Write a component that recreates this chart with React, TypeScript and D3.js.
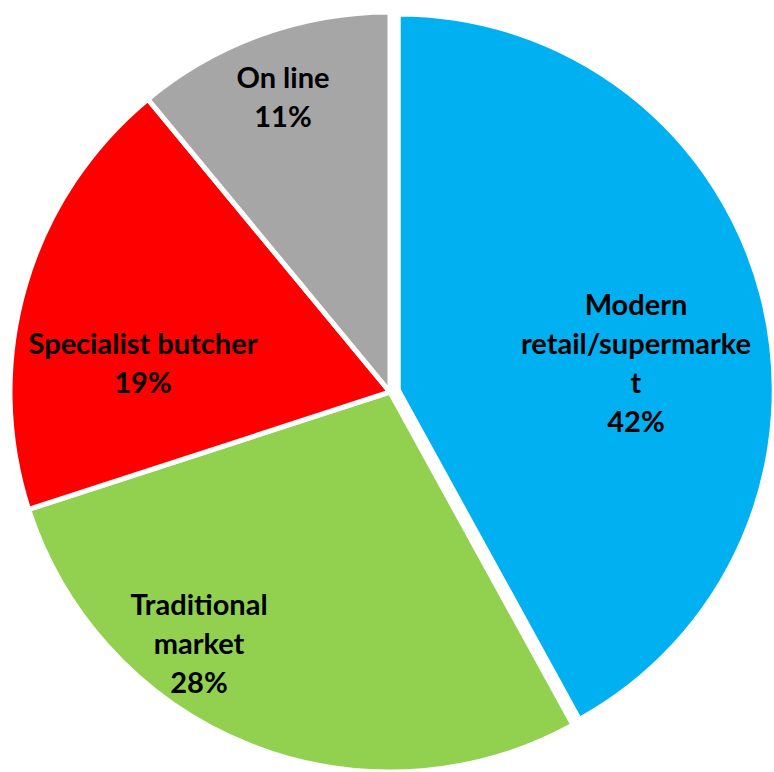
import React, { useEffect, useRef } from "react";
import * as d3 from "d3";

// channel share data
const categories = ["Modern retail/supermarket", "Traditional market", "Specialist butcher", "On line"];
const shares = [42, 28, 19, 11];
const colors = ["#00B0F0", "#92D050", "#FF0000", "#A6A6A6"];
// label text as wrapped in the original chart
const labelLines = [
  ["Modern", "retail/supermarke", "t", "42%"],
  ["Traditional", "market", "28%"],
  ["Specialist butcher", "19%"],
  ["On line", "11%"],
];

// layout only: where each label block sits (first baseline), and which slice is pulled out
const labelAnchors = [
  [636, 315],
  [199, 615],
  [143, 354],
  [283, 88],
];
const exploded = [true, false, false, false];

function App() {
  const svgRef = useRef<SVGSVGElement>(null);
  const width = 774;
  const height = 772;
  const cx = 390;
  const cy = 392;
  const radius = 380;
  const lineHeight = 39;

  useEffect(() => {
    const svg = d3.select(svgRef.current);
    svg.selectAll("*").remove();

    const pie = d3
      .pie<number>()
      .sort(null)
      .value((d) => d)
      .startAngle(0)
      .endAngle(2 * Math.PI);

    const arcs = pie(shares);
    const arc = d3.arc<d3.PieArcDatum<number>>().innerRadius(0).outerRadius(radius);
    const arcSmall = d3.arc<d3.PieArcDatum<number>>().innerRadius(0).outerRadius(radius - 4);

    const g = svg.append("g").attr("transform", `translate(${cx},${cy})`);

    g.selectAll("path")
      .data(arcs)
      .enter()
      .append("path")
      .attr("d", (d, i) => (exploded[i] ? arcSmall(d) : arc(d)))
      .attr("transform", (d, i) => {
        if (!exploded[i]) return null;
        const mid = (d.startAngle + d.endAngle) / 2;
        const off = 8.5;
        return `translate(${Math.sin(mid) * off},${-Math.cos(mid) * off})`;
      })
      .attr("fill", (_, i) => colors[i])
      .attr("stroke", "#fff")
      .attr("stroke-width", 5)
      .attr("stroke-linejoin", "miter");

    // data labels
    const labels = svg
      .selectAll("text.lbl")
      .data(labelLines)
      .enter()
      .append("text")
      .attr("class", "lbl")
      .attr("text-anchor", "middle")
      .attr("font-family", "Lato, 'Open Sans', sans-serif")
      .attr("font-weight", "bold")
      .attr("font-size", 29)
      .attr("fill", "#000");

    labels.each(function (lines, i) {
      const t = d3.select(this);
      lines.forEach((line, j) => {
        t.append("tspan")
          .attr("x", labelAnchors[i][0])
          .attr("y", labelAnchors[i][1] + j * lineHeight)
          .text(line);
      });
    });
  }, []);

  return (
    <div style={{ position: "absolute", left: 0, top: 0, width, height, overflow: "hidden" }}>
      <svg ref={svgRef} width={width} height={height} style={{ display: "block" }}></svg>
    </div>
  );
}

export default App;
